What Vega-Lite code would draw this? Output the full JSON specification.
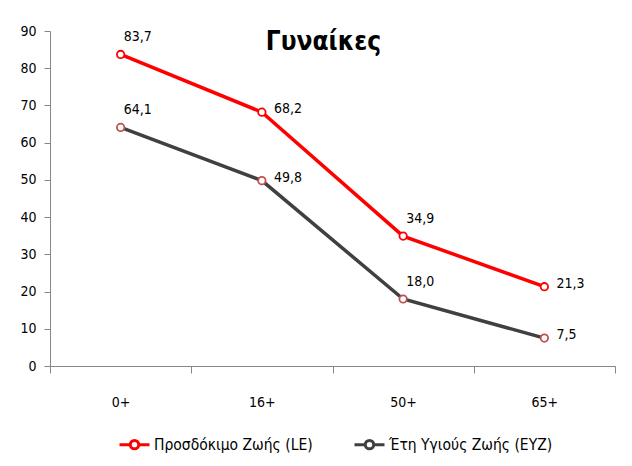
{
  "$schema": "https://vega.github.io/schema/vega-lite/v6.json",
  "autosize": "none",
  "width": 565,
  "height": 335,
  "padding": {"left": 50, "top": 31, "right": 17, "bottom": 100},
  "background": "white",
  "config": {
    "view": {"stroke": null},
    "font": "'DejaVu Sans Condensed', 'Liberation Sans Narrow', 'Noto Sans', sans-serif",
    "axis": {"labelFont": "'DejaVu Sans Condensed', 'Liberation Sans Narrow', 'Noto Sans', sans-serif", "labelFontSize": 14, "labelColor": "#000000", "domainColor": "#868686", "tickColor": "#868686", "grid": false, "title": null},
    "legend": {"labelFont": "'DejaVu Sans Condensed', 'Liberation Sans Narrow', 'Noto Sans', sans-serif", "labelFontSize": 15.5, "labelColor": "#000000", "labelLimit": 400}
  },
  "title": {"text": "Γυναίκες", "fontSize": 26, "fontWeight": "bold", "font": "'DejaVu Sans Condensed', 'Liberation Sans Narrow', 'Noto Sans', sans-serif", "color": "#000000", "anchor": "middle", "offset": -31, "dx": -9},
  "data": {"values": [
    {"age": "0+", "series": "Προσδόκιμο Ζωής  (LE)", "value": 83.7, "label": "83,7"},
    {"age": "16+", "series": "Προσδόκιμο Ζωής  (LE)", "value": 68.2, "label": "68,2"},
    {"age": "50+", "series": "Προσδόκιμο Ζωής  (LE)", "value": 34.9, "label": "34,9"},
    {"age": "65+", "series": "Προσδόκιμο Ζωής  (LE)", "value": 21.3, "label": "21,3"},
    {"age": "0+", "series": "Έτη Υγιούς Ζωής (ΕΥΖ)", "value": 64.1, "label": "64,1"},
    {"age": "16+", "series": "Έτη Υγιούς Ζωής (ΕΥΖ)", "value": 49.8, "label": "49,8"},
    {"age": "50+", "series": "Έτη Υγιούς Ζωής (ΕΥΖ)", "value": 18.0, "label": "18,0"},
    {"age": "65+", "series": "Έτη Υγιούς Ζωής (ΕΥΖ)", "value": 7.5, "label": "7,5"}
  ]},
  "encoding": {
    "x": {"field": "age", "type": "nominal", "sort": ["0+", "16+", "50+", "65+"],
          "scale": {"paddingInner": 0, "paddingOuter": 0},
          "axis": {"labelAngle": 0, "labelPadding": 22, "tickBand": "extent", "tickSize": 7, "domainWidth": 1}},
    "y": {"field": "value", "type": "quantitative", "scale": {"domain": [0, 90], "nice": false},
          "axis": {"values": [0,10,20,30,40,50,60,70,80,90], "tickSize": 6, "labelPadding": 8, "domainWidth": 1}}
  },
  "layer": [
    {
      "mark": {"type": "line", "strokeWidth": 3.5},
      "encoding": {
        "color": {"field": "series", "type": "nominal",
                  "scale": {"domain": ["Προσδόκιμο Ζωής  (LE)", "Έτη Υγιούς Ζωής (ΕΥΖ)"], "range": ["#ff0000", "#404040"]},
                  "legend": {"title": null, "orient": "none", "legendX": 68, "legendY": 397, "direction": "horizontal",
                             "symbolType": "M -1 0 L -0.28 0 M 0.28 0 L 1 0 M -0.28 0 A 0.28 0.28 0 1 1 0.28 0 A 0.28 0.28 0 1 1 -0.28 0",
                             "symbolSize": 900, "symbolStrokeWidth": 3, "symbolFillColor": "white", "columnPadding": 30, "labelOffset": 3}}
      }
    },
    {
      "mark": {"type": "point", "filled": true, "fill": "white", "opacity": 1, "fillOpacity": 1, "size": 55, "strokeWidth": 1.8},
      "encoding": {
        "stroke": {"field": "series", "type": "nominal",
                   "scale": {"domain": ["Προσδόκιμο Ζωής  (LE)", "Έτη Υγιούς Ζωής (ΕΥΖ)"], "range": ["#ff0000", "#c0504d"]},
                   "legend": null}
      }
    },
    {
      "transform": [{"filter": "datum.age == '0+' || datum.age == '50+'"}],
      "mark": {"type": "text", "align": "left", "baseline": "middle", "dx": 3, "dy": -17, "fontSize": 14, "color": "#000000"},
      "encoding": {"text": {"field": "label"}}
    },
    {
      "transform": [{"filter": "datum.age == '16+' || datum.age == '65+'"}],
      "mark": {"type": "text", "align": "left", "baseline": "middle", "dx": 12, "dy": -3, "fontSize": 14, "color": "#000000"},
      "encoding": {"text": {"field": "label"}}
    }
  ]
}
